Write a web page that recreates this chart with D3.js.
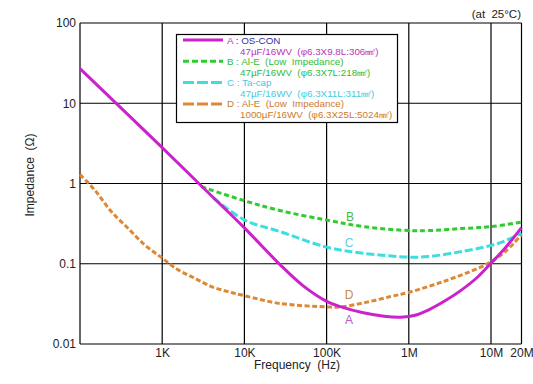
<!DOCTYPE html>
<html><head><meta charset="utf-8">
<script src="https://cdn.jsdelivr.net/npm/d3@7"></script>
<style>body{margin:0;background:#fff}svg{display:block;font-family:"Liberation Sans",Arial,sans-serif}text{white-space:pre}</style>
</head><body><svg id="c" width="533" height="384"></svg>
<script>
// ---- data ----
const xTickValues = [1e3, 1e4, 1e5, 1e6, 1e7, 2e7];
const xTickLabels = ["1K", "10K", "100K", "1M", "10M", "20M"];
const yTickValues = [100, 10, 1, 0.1, 0.01];
const yTickLabels = ["100", "10", "1", "0.1", "0.01"];

const seriesA = [[100,27],[1e3,2.8],[3e3,0.93],[1e4,0.28],[2.7e4,0.098],[5.2e4,0.053],[1e5,0.034],[1.5e5,0.029],[2.8e5,0.0245],[5e5,0.0222],[8e5,0.0216],[1.2e6,0.0228],[1.73e6,0.0265],[2.76e6,0.0345],[4.4e6,0.0473],[7e6,0.0694],[1e7,0.1016],[1.375e7,0.156],[2e7,0.282]];
const seriesB = [[3e3,0.91],[1e4,0.61],[2.7e4,0.46],[1e5,0.35],[2.8e5,0.29],[1e6,0.259],[1.73e6,0.259],[4.4e6,0.275],[1e7,0.29],[2e7,0.33]];
const seriesC = [[4.2e3,0.66],[1e4,0.352],[2.7e4,0.252],[1e5,0.161],[2.8e5,0.135],[1e6,0.121],[1.73e6,0.123],[4.4e6,0.142],[1e7,0.169],[1.375e7,0.193],[2e7,0.24]];
const seriesD = [[100,1.29],[151,0.83],[240,0.447],[384,0.277],[612,0.172],[1e3,0.1175],[1.56e3,0.084],[2.49e3,0.066],[3.96e3,0.052],[6.3e3,0.045],[1e4,0.040],[2.7e4,0.032],[1e5,0.029],[1.5e5,0.029],[3e5,0.033],[6e5,0.039],[1e6,0.044],[2.76e6,0.061],[7e6,0.088],[1e7,0.106],[1.375e7,0.141],[2e7,0.229]];

const seriesNames = ["A", "B", "C", "D"];
const legendLine1 = [" : OS-CON", " : Al-E  (Low  Impedance)", " : Ta-cap", " : Al-E  (Low  Impedance)"];
const legendLine2 = ["47µF/16WV  (φ6.3X9.8L:306㎣)", "47µF/16WV  (φ6.3X7L:218㎣)", "47µF/16WV  (φ6.3X11L:311㎣)", "1000µF/16WV  (φ6.3X25L:5024㎣)"];

// ---- chart ----
const svg = d3.select("#c");
const x = d3.scaleLog().domain([100, 1e7, 2e7]).range([80, 491, 521.5]);
const y = d3.scaleLog().domain([0.01, 100]).range([344, 23]);

const colors = {A:"#cc22cc", B:"#2ecc2e", C:"#3ddede", D:"#dd8833"};
const labelColors = {A:"#bb55cc", B:"#44bb44", C:"#66ccdd", D:"#cc8844"};
const dashes = {A:null, B:"5,3", C:"8,3", D:"5,2.5"};

// grid
const g = svg.append("g");
g.selectAll("line.h").data(yTickValues).join("line")
  .attr("x1", x(100)).attr("x2", x(2e7)).attr("y1", d=>y(d)).attr("y2", d=>y(d))
  .attr("stroke", "#000").attr("stroke-width", 1.2);
g.selectAll("line.v").data([100].concat(xTickValues)).join("line")
  .attr("y1", y(0.01)).attr("y2", y(100)).attr("x1", d=>x(d)).attr("x2", d=>x(d))
  .attr("stroke", "#000").attr("stroke-width", 1.2);

// axes labels via d3 axes
const yAxis = d3.axisLeft(y).tickValues(yTickValues).tickFormat((d,i)=>yTickLabels[i]).tickSize(0).tickPadding(4);
const ya = svg.append("g").attr("transform", "translate(80,0)").call(yAxis);
ya.select(".domain").remove();
ya.selectAll("text").attr("font-size", 12).attr("fill", "#222").attr("font-family", "Liberation Sans, Arial, sans-serif");

const xAxis = d3.axisBottom(x).tickValues(xTickValues).tickFormat((d,i)=>xTickLabels[i]).tickSize(0).tickPadding(4);
const xa = svg.append("g").attr("transform", "translate(0,344)").call(xAxis);
xa.select(".domain").remove();
xa.selectAll("text").attr("font-size", 12).attr("fill", "#222").attr("font-family", "Liberation Sans, Arial, sans-serif");

svg.append("text").attr("x", 297).attr("y", 369).attr("text-anchor", "middle")
  .attr("font-size", 12).attr("fill", "#222").text("Frequency  (Hz)");
svg.append("text").attr("transform", "translate(34,175) rotate(-90)").attr("text-anchor", "middle")
  .attr("font-size", 12).attr("fill", "#222").text("Impedance  (Ω)");
svg.append("text").attr("x", 521).attr("y", 18).attr("text-anchor", "end")
  .attr("font-size", 11.5).attr("fill", "#222").text("(at  25°C)");

// curves
const line = d3.line().x(d=>x(d[0])).y(d=>y(d[1])).curve(d3.curveCatmullRom.alpha(0.5));
const data = {A:seriesA, B:seriesB, C:seriesC, D:seriesD};
["D","C","B","A"].forEach(k=>{
  svg.append("path").datum(data[k]).attr("d", line).attr("fill","none")
    .attr("stroke", colors[k]).attr("stroke-width", 3)
    .attr("stroke-dasharray", dashes[k]);
});

// curve labels
const labelPos = {B:[350,221], C:[349,247], D:[349,299], A:[349,324]};
seriesNames.forEach(k=>{
  svg.append("text").attr("x", labelPos[k][0]).attr("y", labelPos[k][1]).attr("text-anchor","middle")
    .attr("font-size", 12).attr("fill", labelColors[k]).text(k);
});

// legend
const lg = svg.append("g");
lg.append("rect").attr("x", 176.5).attr("y", 34.5).attr("width", 221).attr("height", 88)
  .attr("fill", "#fff").attr("stroke", "#000").attr("stroke-width", 1.2);
const textColors = {A:"#bb33bb", B:"#33bb33", C:"#44ccdd", D:"#cc7a2a"};
seriesNames.forEach((k,i)=>{
  const ly = 40 + i*21.3;
  lg.append("line").attr("x1", 183).attr("x2", 223).attr("y1", ly).attr("y2", ly)
    .attr("stroke", colors[k]).attr("stroke-width", 3).attr("stroke-dasharray", dashes[k] ? (k==="B"?"6,3":"11,3") : null);
  const t = lg.append("text").attr("x", 227).attr("y", ly+3.5).attr("font-size", 9.8).attr("fill", textColors[k]);
  t.append("tspan").text(k);
  t.append("tspan").attr("fill", k==="A" ? "#333399" : textColors[k]).text(legendLine1[i]);
  lg.append("text").attr("x", 240).attr("y", ly+14.5).attr("font-size", 9.8).attr("fill", textColors[k]).text(legendLine2[i]);
});
</script></body></html>
